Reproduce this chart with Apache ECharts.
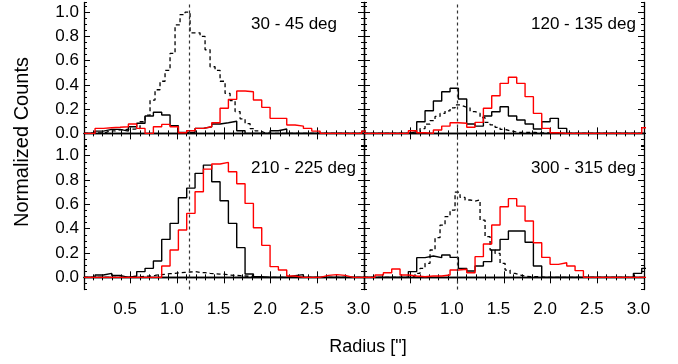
<!DOCTYPE html>
<html>
<head>
<meta charset="utf-8">
<script src="https://cdn.jsdelivr.net/npm/echarts@6/dist/echarts.min.js"></script>
<style>
  html, body { margin: 0; padding: 0; background: #fff; }
  #chart { width: 678px; height: 364px; }
</style>
</head>
<body>
<div id="chart"></div>
<script>
// panel titles and the vertical reference radius of each panel
const panelLabels = ['30 - 45 deg', '120 - 135 deg', '210 - 225 deg', '300 - 315 deg'];
const refRadius = [1.13, 1.0, 1.13, 1.0];
const yTickValues = [0, 0.2, 0.4, 0.6, 0.8, 1.0];

// solid histograms: bin edges start at binStart, width binWidth
const binStart = 0.029;
const binWidth = 0.0893;
// dashed histograms use finer bins
const fineStart = 0.0107;
const fineWidth = 0.0536;

// 30 - 45 deg
const black30 = [0, 0.019, 0.033, 0.033, 0.019, 0.055, 0.083, 0.143, 0.174, 0.152, 0.063, 0.008, 0.008, 0.041, 0.055, 0.077, 0.088, 0.1, 0.022, 0, 0, 0, 0.022, 0.036, 0, 0, 0, 0, 0, 0, 0, 0, 0, 0.019];
const red30 = [0, 0.041, 0.047, 0.05, 0.055, 0.077, 0.041, 0, 0.055, 0.074, 0.055, 0.005, 0.022, 0.041, 0.055, 0.088, 0.207, 0.281, 0.35, 0.344, 0.275, 0.215, 0.124, 0.124, 0.069, 0.06, 0.041, 0.019, 0, 0, 0, 0, 0, 0.019];
const dash30 = [0, 0.005, 0.005, 0.005, 0.02, 0.02, 0.03, 0.03, 0.035, 0.035, 0.04, 0.096, 0.15, 0.275, 0.36, 0.43, 0.52, 0.66, 0.895, 0.98, 1.0, 0.83, 0.83, 0.8, 0.69, 0.55, 0.52, 0.43, 0.33, 0.27, 0.18, 0.12, 0.08, 0.04, 0.02, 0.005, 0, 0, 0, 0, 0, 0, 0, 0, 0, 0, 0, 0, 0, 0, 0, 0, 0, 0, 0, 0];

// 120 - 135 deg
const black120 = [0, 0, 0, 0, 0, 0.014, 0.096, 0.187, 0.267, 0.344, 0.372, 0.284, 0.077, 0.06, 0.143, 0.179, 0.22, 0.143, 0.11, 0.077, 0.036, 0.096, 0.124, 0.041, 0, 0, 0, 0, 0, 0, 0, 0, 0, 0];
const red120 = [0, 0, 0, 0, 0, 0.022, 0.005, 0, 0.028, 0.06, 0.088, 0.083, 0.05, 0.091, 0.207, 0.311, 0.413, 0.463, 0.413, 0.303, 0.165, 0.041, 0.005, 0, 0, 0, 0, 0, 0, 0, 0, 0, 0, 0.047];
const dash120 = [0, 0, 0, 0, 0, 0, 0, 0, 0, 0, 0.014, 0.04, 0.077, 0.105, 0.14, 0.165, 0.185, 0.21, 0.235, 0.22, 0.21, 0.18, 0.165, 0.13, 0.09, 0.07, 0.05, 0.033, 0.022, 0.014, 0.008, 0.008, 0.008, 0.008, 0.005, 0.005, 0.005, 0, 0, 0, 0, 0, 0, 0, 0, 0, 0, 0, 0, 0, 0, 0, 0, 0, 0, 0];

// 210 - 225 deg
const black210 = [0, 0.019, 0.033, 0.016, 0, 0.011, 0.047, 0.074, 0.134, 0.312, 0.444, 0.655, 0.734, 0.855, 0.923, 0.786, 0.63, 0.444, 0.244, 0.027, 0.005, 0, 0, 0, 0.014, 0.022, 0, 0, 0, 0, 0, 0, 0, 0];
const red210 = [0, 0, 0, 0, 0, 0, 0, 0, 0, 0.093, 0.225, 0.389, 0.526, 0.704, 0.89, 0.932, 0.945, 0.868, 0.77, 0.608, 0.408, 0.263, 0.088, 0.06, 0.011, 0, 0, 0, 0.016, 0.022, 0.016, 0, 0, 0];
const dash210 = [0, 0, 0, 0, 0, 0, 0, 0, 0, 0, 0.003, 0.008, 0.011, 0.016, 0.022, 0.025, 0.03, 0.033, 0.038, 0.041, 0.044, 0.047, 0.041, 0.038, 0.033, 0.03, 0.027, 0.025, 0.019, 0.016, 0.014, 0.011, 0.008, 0.005, 0.003, 0, 0, 0, 0, 0, 0, 0, 0, 0, 0, 0, 0, 0, 0, 0, 0, 0, 0, 0, 0, 0];

// 300 - 315 deg
const black300 = [0, 0, 0, 0, 0, 0.047, 0.162, 0.175, 0.162, 0.184, 0.164, 0.074, 0.052, 0.093, 0.129, 0.225, 0.312, 0.381, 0.381, 0.288, 0.093, 0, 0, 0, 0, 0, 0, 0, 0, 0, 0, 0, 0.033, 0.074];
const red300 = [0, 0.019, 0.038, 0.068, 0.019, 0.011, 0.005, 0.011, 0.011, 0.019, 0.06, 0.066, 0.038, 0.17, 0.274, 0.43, 0.58, 0.647, 0.586, 0.463, 0.285, 0.164, 0.107, 0.12, 0.093, 0.055, 0, 0, 0, 0, 0, 0, 0, 0];
const dash300 = [0, 0, 0, 0, 0, 0, 0, 0, 0, 0.011, 0.033, 0.074, 0.115, 0.225, 0.326, 0.43, 0.5, 0.553, 0.7, 0.657, 0.636, 0.627, 0.636, 0.47, 0.334, 0.225, 0.197, 0.115, 0.06, 0.033, 0.019, 0.011, 0.005, 0.005, 0.005, 0, 0, 0, 0, 0, 0, 0, 0, 0, 0, 0, 0, 0, 0, 0, 0, 0, 0, 0, 0, 0];

const panels = [
  { black: black30, red: red30, dash: dash30 },
  { black: black120, red: red120, dash: dash120 },
  { black: black210, red: red210, dash: dash210 },
  { black: black300, red: red300, dash: dash300 },
];

const FONT = '"Liberation Sans", Arial, sans-serif';

const grids = [
  { left: 84, top: 2.5, width: 280, height: 143 },
  { left: 364, top: 2.5, width: 280, height: 143 },
  { left: 84, top: 146, width: 280, height: 143.5 },
  { left: 364, top: 146, width: 280, height: 143.5 },
];

// histogram heights -> step points at bin edges
const toSteps = (heights, start, width) => {
  const pts = [[0, heights[0]]];
  heights.forEach((h, i) => pts.push([start + i * width, h]));
  pts.push([start + heights.length * width, heights[heights.length - 1]]);
  return pts;
};

const axisLine = { show: true, lineStyle: { color: '#000', width: 1.3 } };
const tickStyle = { color: '#000', width: 1 };

const xAxes = [];
const yAxes = [];
grids.forEach((grid, g) => {
  const xBase = {
    gridIndex: g,
    type: 'value',
    min: 0,
    max: 3,
    interval: 0.5,
    axisLine,
    axisTick: { inside: true, length: 6, lineStyle: tickStyle },
    minorTick: { show: true, splitNumber: 5, length: 3, lineStyle: tickStyle },
    splitLine: { show: false },
    minorSplitLine: { show: false },
    axisLabel: { show: false },
  };
  xAxes.push({
    ...xBase,
    position: 'bottom',
    axisLabel: {
      show: g >= 2,
      formatter: (v) => (v === 0 ? '' : v.toFixed(1)),
      color: '#000',
      fontFamily: FONT,
      fontSize: 17,
      margin: 11,
      padding: [0, 11, 0, 0],
    },
  });
  xAxes.push({ ...xBase, position: 'top' });

  ['left', 'right'].forEach((pos) => {
    // major ticks (and labels on the left column)
    yAxes.push({
      gridIndex: g,
      type: 'value',
      min: -0.1,
      max: 1.08,
      position: pos,
      axisLine,
      axisTick: { inside: true, length: 6, lineStyle: tickStyle, customValues: yTickValues },
      axisLabel: {
        show: pos === 'left' && g % 2 === 0,
        customValues: yTickValues,
        formatter: (v) => v.toFixed(1),
        color: '#000',
        fontFamily: FONT,
        fontSize: 17,
        margin: 5,
      },
      splitLine: { show: false },
    });
    // minor ticks
    yAxes.push({
      gridIndex: g,
      type: 'value',
      min: -0.1,
      max: 1.08,
      interval: 0.05,
      position: pos,
      axisLine: { show: false },
      axisTick: { inside: true, length: 3, lineStyle: tickStyle },
      axisLabel: { show: false },
      splitLine: { show: false },
    });
  });
});

const series = [];
panels.forEach((p, g) => {
  const common = {
    type: 'line',
    xAxisIndex: g * 2,
    yAxisIndex: g * 4,
    step: 'end',
    symbol: 'none',
    silent: true,
  };
  series.push({
    ...common,
    data: toSteps(p.dash, fineStart, fineWidth),
    lineStyle: { color: '#000', width: 1.3, type: [4, 3] },
    markLine: {
      silent: true,
      symbol: ['none', 'none'],
      label: { show: false },
      lineStyle: { color: '#333', width: 1.2, type: [3, 3] },
      data: [{ xAxis: refRadius[g] }],
    },
  });
  series.push({
    ...common,
    data: toSteps(p.black, binStart, binWidth),
    lineStyle: { color: '#000', width: 1.4 },
  });
  series.push({
    ...common,
    data: toSteps(p.red, binStart, binWidth),
    lineStyle: { color: '#ff0000', width: 1.4 },
  });
});

const graphic = panelLabels.map((t, g) => ({
  type: 'text',
  x: grids[g].left + 167,
  y: g < 2 ? 24.5 : 168.5,
  style: { text: t, font: '17px ' + FONT, fill: '#000', textVerticalAlign: 'middle' },
}));
graphic.push({
  type: 'text',
  x: 368,
  y: 347,
  style: { text: 'Radius ["]', font: '18px ' + FONT, fill: '#000', textAlign: 'center', textVerticalAlign: 'middle' },
});
graphic.push({
  type: 'text',
  x: 22,
  y: 142,
  rotation: Math.PI / 2,
  style: { text: 'Normalized Counts', font: '20px ' + FONT, fill: '#000', textAlign: 'center', textVerticalAlign: 'middle' },
});

const option = {
  animation: false,
  backgroundColor: '#fff',
  grid: grids.map((g) => ({ ...g, containLabel: false, outerBoundsMode: 'none' })),
  xAxis: xAxes,
  yAxis: yAxes,
  series,
  graphic,
};

const myChart = echarts.init(document.getElementById('chart'), null, { renderer: 'canvas' });
myChart.setOption(option);
</script>
</body>
</html>
